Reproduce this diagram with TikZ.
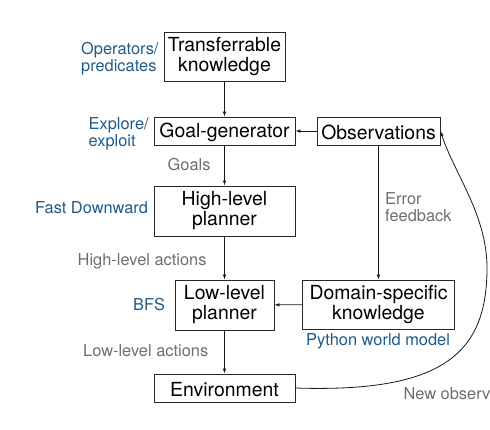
\documentclass[tikz,border=0pt]{standalone}
\usepackage{fontspec}
\setmainfont{TeX Gyre Heros}
\usetikzlibrary{arrows.meta}
\definecolor{lblblue}{RGB}{30,90,138}
\definecolor{lblgray}{RGB}{110,110,110}
\tikzset{
  box/.style={draw=black!85, line width=0.9pt, inner sep=0pt, align=center,
    font=\fontsize{19.4}{20}\selectfont,
    execute at begin node={\rule{0pt}{17.5pt}}},
  bluelbl/.style={text=lblblue, inner sep=0pt, align=left, font=\fontsize{16.4}{17}\selectfont},
  graylbl/.style={text=lblgray, inner sep=0pt, align=left, font=\fontsize{16.4}{17}\selectfont},
  conn/.style={draw=black!90, line width=0.8pt, -{Latex[length=5pt,width=3.6pt]}}
}
\begin{document}
\begin{tikzpicture}[x=1pt,y=-1pt]
\useasboundingbox (0,0) rectangle (490,430);
% boxes
\node[box, minimum width=121, minimum height=49] (tk) at (224.5,56.5) {Transferrable\\knowledge};
\node[box, minimum width=141, minimum height=28] (gg) at (224.5,131) {Goal-generator};
\node[box, minimum width=123, minimum height=28] (obs) at (378.5,131) {Observations};
\node[box, minimum width=141, minimum height=50] (hl) at (224.5,211) {High-level\\planner};
\node[box, minimum width=99, minimum height=50] (ll) at (224.5,305) {Low-level\\planner};
\node[box, minimum width=152, minimum height=49] (dk) at (378.5,304.5) {Domain-specific\\knowledge};
\node[box, minimum width=141, minimum height=28] (env) at (224.5,388) {Environment};
% labels
\node[bluelbl, anchor=north west] (lops) at (81,42.5) {Operators/\\predicates};
\node[bluelbl, anchor=north west] (lexp) at (88.5,117.5) {Explore/\\exploit};
\node[graylbl, anchor=base west] (lgoals) at (167.5,171) {Goals};
\node[bluelbl, anchor=base west] (lfd) at (35,214) {Fast Downward};
\node[graylbl, anchor=north west] (lerr) at (385,192.5) {Error\\feedback};
\node[graylbl, anchor=base west] (lhla) at (77.5,265.7) {High-level actions};
\node[bluelbl, anchor=base west] (lbfs) at (133,310.7) {BFS};
\node[bluelbl, anchor=base west] (lpy) at (306,345) {Python world model};
\node[graylbl, anchor=base west] (llla) at (83,356) {Low-level actions};
\node[graylbl, anchor=base west] (lnew) at (403.3,399) {New observ};
% connectors
\draw[conn] (tk) -- (gg);
\draw[conn] (obs) -- (gg);
\draw[conn] (gg) -- (hl);
\draw[conn] (hl) -- (ll);
\draw[conn] (obs.south) -- (dk.north);
\draw[conn] (dk) -- (ll);
\draw[conn] (ll) -- (env);
\coordinate (bend) at (487,268);
\draw[conn] (env.east) .. controls (445,393) and (487,352) .. (bend)
  .. controls (487,215) and (455,175) .. (obs.east);
\end{tikzpicture}
\end{document}
